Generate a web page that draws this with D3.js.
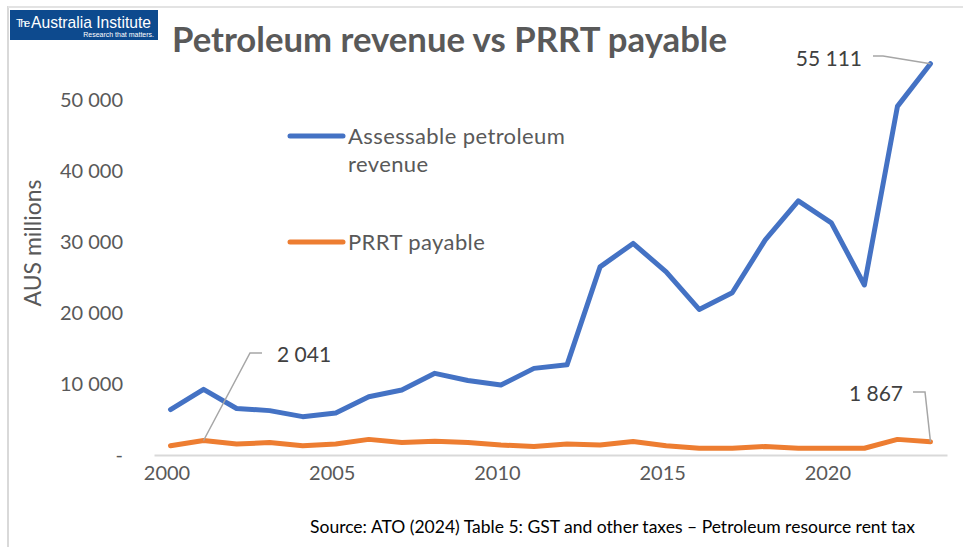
<!DOCTYPE html>
<html>
<head>
<meta charset="utf-8">
<script src="https://cdn.jsdelivr.net/npm/d3@7"></script>
<style>
  body { margin: 0; background: #fff; }
  svg { display: block; font-family: Lato, "Open Sans", sans-serif; }
</style>
</head>
<body>
<svg width="963" height="547"></svg>
<script>
// Data
const years = d3.range(2000, 2024);
const revenue = [6400, 9250, 6550, 6250, 5400, 5900, 8200, 9150, 11500, 10500,
  9850, 12200, 12700, 26500, 29800, 25800, 20500, 22850, 30300, 35800,
  32700, 23950, 49100, 55111];
const prrt = [1300, 2041, 1550, 1750, 1300, 1550, 2200, 1750, 1950, 1750,
  1400, 1200, 1550, 1400, 1900, 1300, 950, 950, 1200, 950,
  950, 950, 2200, 1867];
const yTicks = [0, 10000, 20000, 30000, 40000, 50000];
const xTicks = [2000, 2005, 2010, 2015, 2020];

const blue = "#4472C4";
const orange = "#ED7D31";
const grey = "#595959";

const svg = d3.select("svg");

// Frame lines
svg.append("line").attr("x1", 8).attr("x2", 8).attr("y1", 6).attr("y2", 547)
  .attr("stroke", "#d9d9d9").attr("stroke-width", 2);
svg.append("line").attr("x1", 8).attr("x2", 963).attr("y1", 7).attr("y2", 7)
  .attr("stroke", "#e3e3e3").attr("stroke-width", 2);

// Scales
const x = d3.scalePoint().domain(years).range([154, 947]).padding(0.5);
const y = d3.scaleLinear().domain([0, 60000]).range([455, 29]);

const loc = d3.formatLocale({ decimal: ".", thousands: " ", grouping: [3], currency: ["", ""] });
const fmt = loc.format(",");

// y axis
const gy = svg.append("g")
  .attr("transform", "translate(123,0)")
  .call(d3.axisLeft(y).tickValues(yTicks).tickSize(0).tickPadding(0)
    .tickFormat(d => d === 0 ? "- " : fmt(d)));
gy.select(".domain").remove();
gy.selectAll("text").attr("fill", grey).style("font-size", "20px")
  .style("font-family", "Lato, sans-serif");

// x axis
const gx = svg.append("g")
  .attr("transform", "translate(0,455)")
  .call(d3.axisBottom(x).tickValues(xTicks).tickSize(0).tickSizeOuter(0).tickPadding(11));
gx.select(".domain").attr("stroke", "#d9d9d9").attr("stroke-width", 2);
gx.selectAll("text").attr("fill", grey).style("font-size", "20px")
  .style("font-family", "Lato, sans-serif").attr("dx", "-4");

// y axis title
svg.append("text")
  .attr("transform", "translate(41,243) rotate(-90)")
  .attr("text-anchor", "middle")
  .attr("fill", grey).style("font-size", "23px")
  .text("AUS millions");

// Lines
const line = d3.line().x((d, i) => x(years[i])).y(d => y(d));
svg.append("path").datum(revenue).attr("d", line)
  .attr("fill", "none").attr("stroke", blue).attr("stroke-width", 5)
  .attr("stroke-linejoin", "round").attr("stroke-linecap", "round");
svg.append("path").datum(prrt).attr("d", line)
  .attr("fill", "none").attr("stroke", orange).attr("stroke-width", 5)
  .attr("stroke-linejoin", "round").attr("stroke-linecap", "round");

// Data labels with leader lines
const leader = "#a6a6a6";
const labels = [
  { year: 2001, value: prrt[1], text: fmt(prrt[1]), pts: [[250, 353], [262, 353]], tx: 277, ty: 362, anchor: "start" },
  { year: 2023, value: prrt[23], text: fmt(prrt[23]), pts: [[925, 392], [913, 392]], tx: 903, ty: 401, anchor: "end" },
  { year: 2023, value: revenue[23], text: fmt(revenue[23]), pts: [[883, 56], [873, 56]], tx: 862, ty: 66, anchor: "end" }
];
labels.forEach(l => {
  const p = [[x(l.year), y(l.value)]].concat(l.pts);
  svg.append("path").attr("d", d3.line()(p))
    .attr("fill", "none").attr("stroke", leader).attr("stroke-width", 1.5);
  svg.append("text").attr("x", l.tx).attr("y", l.ty)
    .attr("text-anchor", l.anchor).attr("fill", "#404040")
    .style("font-size", "21px").text(l.text);
});

// Legend
const legend = [
  { color: blue, lines: ["Assessable petroleum", "revenue"], y: 136 },
  { color: orange, lines: ["PRRT payable"], y: 242 }
];
legend.forEach(l => {
  svg.append("line").attr("x1", 290).attr("x2", 343).attr("y1", l.y).attr("y2", l.y)
    .attr("stroke", l.color).attr("stroke-width", 5).attr("stroke-linecap", "round");
  l.lines.forEach((t, i) => {
    svg.append("text").attr("x", 348).attr("y", l.y + 8 + i * 28)
      .attr("fill", grey).style("font-size", "22px").style("letter-spacing", "0.4px")
      .text(t);
  });
});

// Title
svg.append("text").attr("x", 172).attr("y", 52)
  .attr("fill", grey).style("font-size", "35px").style("font-weight", "bold")
  .attr("textLength", 555).attr("lengthAdjust", "spacingAndGlyphs")
  .text("Petroleum revenue vs PRRT payable");

// Logo
const logo = svg.append("g");
logo.append("rect").attr("x", 10).attr("y", 10).attr("width", 148).attr("height", 30)
  .attr("fill", "#0d4a8e");
logo.append("text").attr("x", 16).attr("y", 27).attr("fill", "#fff")
  .style("font-family", "'Liberation Sans Narrow', 'Liberation Sans', sans-serif")
  .style("font-size", "11px").attr("textLength", 14).text("The");
logo.append("text").attr("x", 31).attr("y", 28).attr("fill", "#fff")
  .style("font-family", "'Liberation Sans Narrow', 'Liberation Sans', sans-serif")
  .style("font-size", "17px").attr("textLength", 120).attr("lengthAdjust", "spacingAndGlyphs")
  .text("Australia Institute");
logo.append("text").attr("x", 154).attr("y", 37).attr("fill", "#fff")
  .attr("text-anchor", "end")
  .style("font-family", "'Liberation Sans Narrow', 'Liberation Sans', sans-serif")
  .style("font-size", "7px").text("Research that matters.");

// Source
svg.append("text").attr("x", 310).attr("y", 533)
  .attr("fill", "#000").style("font-size", "16.5px")
  .attr("textLength", 605).attr("lengthAdjust", "spacingAndGlyphs")
  .text("Source: ATO (2024) Table 5: GST and other taxes \u2013 Petroleum resource rent tax");
</script>
</body>
</html>
